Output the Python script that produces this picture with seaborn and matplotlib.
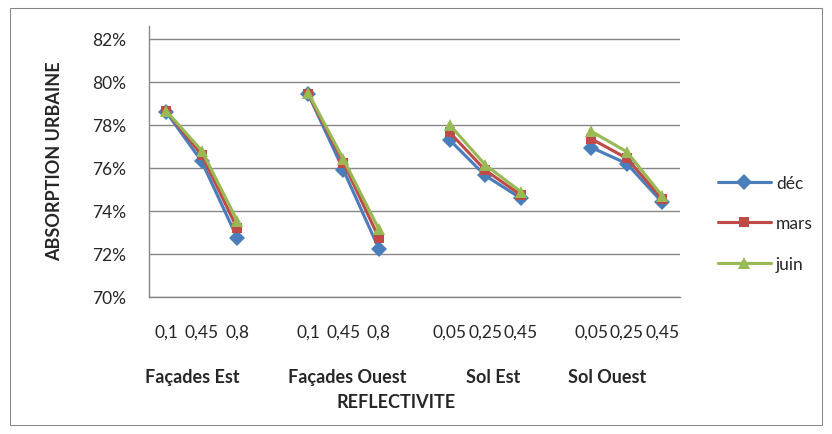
import numpy as np
import pandas as pd
import matplotlib.pyplot as plt
import seaborn as sns
from matplotlib.ticker import PercentFormatter
from matplotlib.patches import Rectangle
from matplotlib.lines import Line2D

sns.set_style("white")
plt.rcParams['font.family'] = ['Lato', 'DejaVu Sans']

# -----------------------------
# Data (absorption urbaine, %)
# -----------------------------
groupes = ["Façades Est", "Façades Ouest", "Sol Est", "Sol Ouest"]
reflectivite = [["0,1", "0,45", "0,8"],
                ["0,1", "0,45", "0,8"],
                ["0,05", "0,25", "0,45"],
                ["0,05", "0,25", "0,45"]]
mois = ["déc", "mars", "juin"]
dec = [78.6, 76.3, 72.75, 79.45, 75.9, 72.25, 77.3, 75.65, 74.6, 76.95, 76.2, 74.4]
mars = [78.65, 76.6, 73.2, 79.45, 76.25, 72.75, 77.65, 75.9, 74.75, 77.35, 76.45, 74.55]
juin = [78.65, 76.8, 73.55, 79.5, 76.4, 73.15, 78.0, 76.15, 74.9, 77.7, 76.75, 74.7]

# long format, one empty category between groups
rows = []
for g_i, g in enumerate(groupes):
    for p_i, r in enumerate(reflectivite[g_i]):
        k = g_i * 3 + p_i
        pos = g_i * 4 + p_i
        for m, vals in zip(mois, [dec, mars, juin]):
            rows.append({"pos": pos, "groupe": g, "mois": m, "val": vals[k] / 100})
df = pd.DataFrame(rows)

W, H = 832, 435
fig = plt.figure(figsize=(W / 100, H / 100), dpi=100)
ax = fig.add_axes([148.6 / W, 1 - 298 / H, (680 - 148.6) / W, (298 - 27) / H])

palette = {"déc": "#4A7EBB", "mars": "#BE4B48", "juin": "#98B954"}
markers = {"déc": "D", "mars": "s", "juin": "^"}
msizes = {"D": 8.5, "s": 7, "^": 8.5}
fs = 12.5

sns.lineplot(data=df, x="pos", y="val", hue="mois", style="mois",
             units="groupe", estimator=None, sort=False,
             palette=palette, markers=markers, dashes=False,
             lw=2.25, markeredgewidth=0, ax=ax)
for line in ax.lines:
    mk = line.get_marker()
    if mk in msizes:
        line.set_markersize(msizes[mk])

# axes styling
grey = "#868686"
ax.set_xlim(-0.5, 14.5)
ax.set_ylim(0.70, 0.826)
ax.set_yticks([0.70, 0.72, 0.74, 0.76, 0.78, 0.80, 0.82])
ax.yaxis.set_major_formatter(PercentFormatter(1, decimals=0))
ax.grid(axis="y", color=grey, lw=1)
ax.set_axisbelow(True)
for s in ["top", "right"]:
    ax.spines[s].set_visible(False)
for s in ["left", "bottom"]:
    ax.spines[s].set_color(grey)
    ax.spines[s].set_linewidth(1)

ax.set_xticks(np.arange(-0.5, 15, 1))
ax.set_xticklabels([])
positions = [g_i * 4 + p_i for g_i in range(len(groupes)) for p_i in range(3)]
labels = [r for grp in reflectivite for r in grp]
ax.set_xticks(positions, labels=labels, minor=True)
ax.tick_params(axis="x", which="major", length=4, width=1, color=grey, direction="out")
ax.tick_params(axis="x", which="minor", length=0, pad=19, labelsize=fs)
ax.tick_params(axis="y", length=4.3, width=1, color=grey, pad=12, labelsize=fs)
ax.set_xlabel("")
ax.set_ylabel("")

# group labels and axis titles
group_x = [192, 347, 493, 607]
for gx, g in zip(group_x, groupes):
    fig.text(gx / W, 1 - 378 / H, g, ha="center", va="center",
             fontsize=13, fontweight="bold")
fig.text(396 / W, 1 - 403 / H, "REFLECTIVITE", ha="center", va="center",
         fontsize=13, fontweight="bold")
fig.text(55 / W, 1 - 161 / H, "ABSORPTION URBAINE", rotation=90,
         ha="center", va="center", fontsize=13, fontweight="bold")

# legend
ax.get_legend().remove()
handles = [Line2D([0], [0], color=palette[m], lw=2.25, marker=markers[m],
                  markersize=msizes[markers[m]], markeredgewidth=0) for m in mois]
ax.legend(handles, mois, loc="center left", bbox_to_anchor=(718 / W, 1 - 224.5 / H),
          bbox_transform=fig.transFigure, frameon=False, borderpad=0,
          borderaxespad=0, handlelength=3.05, handletextpad=0.3,
          labelspacing=1.4, fontsize=fs)

# chart border
fig.add_artist(Rectangle((10 / W, 9 / H), (822 - 10) / W, (426 - 9) / H,
                         transform=fig.transFigure, fill=False,
                         ec=grey, lw=0.75))

fig.savefig("out.png", dpi=100)
